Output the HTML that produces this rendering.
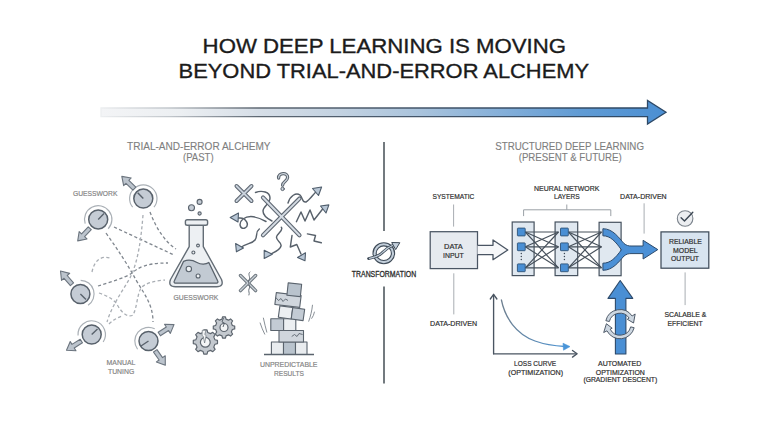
<!DOCTYPE html>
<html><head><meta charset="utf-8">
<style>
html,body{margin:0;padding:0;background:#fff;}
svg{display:block;}
text{font-family:"Liberation Sans",sans-serif;}
</style></head>
<body>
<svg width="768" height="429" viewBox="0 0 768 429">
<defs>
  <linearGradient id="topg" x1="101" y1="0" x2="666" y2="0" gradientUnits="userSpaceOnUse">
    <stop offset="0" stop-color="#f3f4f6"/>
    <stop offset="0.14" stop-color="#eceff2"/>
    <stop offset="0.28" stop-color="#d6dee7"/>
    <stop offset="0.42" stop-color="#c3d2e1"/>
    <stop offset="0.565" stop-color="#a9c3dc"/>
    <stop offset="0.71" stop-color="#84afd9"/>
    <stop offset="0.85" stop-color="#609bd4"/>
    <stop offset="1" stop-color="#4b8fd3"/>
  </linearGradient>
  <linearGradient id="topgs" x1="101" y1="0" x2="666" y2="0" gradientUnits="userSpaceOnUse">
    <stop offset="0" stop-color="#eceef0"/>
    <stop offset="0.12" stop-color="#c2c7cc"/>
    <stop offset="0.28" stop-color="#5d6772"/>
    <stop offset="0.6" stop-color="#3f5268"/>
    <stop offset="1" stop-color="#2c4866"/>
  </linearGradient>
  <linearGradient id="lossg" x1="501" y1="0" x2="570" y2="0" gradientUnits="userSpaceOnUse">
    <stop offset="0" stop-color="#6f8090"/>
    <stop offset="1" stop-color="#4a95d8"/>
  </linearGradient>
  <g id="karrow">
    <!-- arrow pointing right, tip at (0,0) -->
    <path d="M0,0 L-7.8,-5.4 L-7.8,-2.1 L-17.5,-2.1 L-17.5,2.1 L-7.8,2.1 L-7.8,5.4 Z" fill="#bcc4cd" stroke="#6b747e" stroke-width="1.1" stroke-linejoin="round"/>
  </g>
</defs>

<!-- TITLE -->
<g fill="#1b1b1b" stroke="#1b1b1b" stroke-width="0.35" font-size="20.8">
  <text x="202.6" y="52.8" textLength="363.5" lengthAdjust="spacingAndGlyphs">HOW DEEP LEARNING IS MOVING</text>
  <text x="178.6" y="78.2" textLength="410.5" lengthAdjust="spacingAndGlyphs">BEYOND TRIAL-AND-ERROR ALCHEMY</text>
</g>

<!-- TOP ARROW -->
<path d="M101,108 L647.5,108 L647.5,100.5 L666,112.3 L647.5,124 L647.5,116.6 L101,116.6 Z" fill="url(#topg)" stroke="url(#topgs)" stroke-width="1.3" stroke-linejoin="miter"/>

<!-- SECTION HEADERS -->
<g fill="#7e7e7e" stroke="#7e7e7e" stroke-width="0.12" font-size="11">
  <text x="127" y="149.7" textLength="143.5" lengthAdjust="spacingAndGlyphs">TRIAL-AND-ERROR ALCHEMY</text>
  <text x="183" y="161.2" textLength="30.6" lengthAdjust="spacingAndGlyphs">(PAST)</text>
  <text x="495.2" y="149.7" textLength="148.8" lengthAdjust="spacingAndGlyphs">STRUCTURED DEEP LEARNING</text>
  <text x="518.7" y="161.2" textLength="103.1" lengthAdjust="spacingAndGlyphs">(PRESENT &amp; FUTURE)</text>
</g>

<!-- DIVIDER -->
<g stroke="#737a7f" stroke-width="2">
  <line x1="384" y1="142" x2="384" y2="231"/>
  <line x1="384" y1="286.5" x2="384" y2="383.5"/>
</g>

<!-- TRANSFORMATION ICON -->
<g>
  <ellipse cx="383.8" cy="253.2" rx="9.2" ry="8.9" fill="none" stroke="#3f4b58" stroke-width="4.3"/>
  <ellipse cx="383.8" cy="253.2" rx="9.2" ry="8.9" fill="none" stroke="#c3cfdb" stroke-width="2.1"/>
  <path d="M368.5,258.6 C374,257.5 379,256.5 383,252 C387,248 390,246.5 394,244.8" fill="none" stroke="#3f4b58" stroke-width="2.8" stroke-linecap="round"/>
  <path d="M369.5,258.4 C374,257.5 379,256.5 383,252 C387,248 390,246.5 394,244.8" fill="none" stroke="#c3cfdb" stroke-width="1.1" stroke-linecap="round"/>
  <path d="M399.8,242.7 L391.7,242.5 L395.7,249.6 Z" fill="#c3cfdb" stroke="#3f4b58" stroke-width="1" stroke-linejoin="round"/>
</g>
<text x="351.8" y="277.4" font-size="8.3" fill="#2d2d2d" stroke="#2d2d2d" stroke-width="0.3" textLength="64.4" lengthAdjust="spacingAndGlyphs">TRANSFORMATION</text>


<!-- LEFT SIDE -->
<!-- dashed lines -->
<g fill="none" stroke-width="1.3" stroke-dasharray="3.2 2.4">
  <g stroke="#80878f">
  <path d="M114,227 L174,255"/>
  <path d="M106,233 C118,250 128,265 136,280 C145,295 153,305 153,322"/>
  <path d="M150,212 C156,228 165,242 176,249"/>
  <path d="M98,286 C110,282 125,278 132,273 C138,268 145,263 168,263"/>
  </g>
  <g stroke="#a9aeb4">
  <path d="M143,215 C141,240 138,262 130,278 C122,292 112,305 107,322"/>
  <path d="M92,272 C94,262 100,255 110,258"/>
  <path d="M99,293 C108,296 115,300 118,306 C122,313 128,318 133,315 C137,308 137,295 141,288 C145,283 155,281 165,280"/>
  <path d="M109,324 C113,320 117,318 122,316"/>
  </g>
</g>

<!-- knobs -->
<g id="knobs">
  <!-- knob1 -->
  <path d="M132.65,207.22 A13.7,13.7 0 1 1 153.95,207.22" fill="none" stroke="#aab0b6" stroke-width="1.2"/>
  <circle cx="143.3" cy="198.6" r="9.5" fill="#c5ccd5" stroke="#58616b" stroke-width="1.5"/>
  <line x1="143.3" y1="198.6" x2="137.7" y2="192.7" stroke="#58616b" stroke-width="1.4"/>
  <use href="#karrow" transform="translate(121.8,176.4) rotate(-136)"/>
  <!-- knob2 -->
  <path d="M85.17,223.63 A13.7,13.7 0 1 1 108.22,228.74" fill="none" stroke="#aab0b6" stroke-width="1.2"/>
  <circle cx="98.2" cy="219.4" r="9.5" fill="#c5ccd5" stroke="#58616b" stroke-width="1.5"/>
  <line x1="98.2" y1="219.4" x2="104" y2="213.5" stroke="#58616b" stroke-width="1.4"/>
  <use href="#karrow" transform="translate(77.7,240.9) rotate(133.6)"/>
  <!-- knob3 -->
  <path d="M80.64,280.30 A13.7,13.7 0 0 1 88.06,305.36" fill="none" stroke="#aab0b6" stroke-width="1.2"/>
  <circle cx="80.4" cy="294" r="9.5" fill="#c5ccd5" stroke="#58616b" stroke-width="1.5"/>
  <line x1="80.4" y1="294" x2="86" y2="299.5" stroke="#58616b" stroke-width="1.4"/>
  <use href="#karrow" transform="translate(60.5,271) rotate(-131)"/>
  <!-- knob4 -->
  <path d="M78.03,335.46 A13.7,13.7 0 1 1 103.19,341.96" fill="none" stroke="#aab0b6" stroke-width="1.2"/>
  <circle cx="91.7" cy="334.5" r="9.5" fill="#c5ccd5" stroke="#58616b" stroke-width="1.5"/>
  <line x1="91.7" y1="334.5" x2="97.5" y2="329" stroke="#58616b" stroke-width="1.4"/>
  <use href="#karrow" transform="translate(66.5,350.3) rotate(148)"/>
  <!-- knob5 -->
  <path d="M154.72,328.79 A13.7,13.7 0 0 0 137.56,349.24" fill="none" stroke="#aab0b6" stroke-width="1.2"/>
  <circle cx="148.5" cy="341" r="9.5" fill="#c5ccd5" stroke="#58616b" stroke-width="1.5"/>
  <line x1="148.5" y1="341" x2="141" y2="346" stroke="#58616b" stroke-width="1.4"/>
  <use href="#karrow" transform="translate(174,324.6) rotate(-32.7)"/>
  <use href="#karrow" transform="translate(165.3,365.2) rotate(55)"/>
</g>

<!-- flask -->
<g stroke-linejoin="round">
  <path d="M189.2,225.2 L189.2,246.6 L170.5,279.5 Q167.8,286.7 175.5,286.7 L216.5,286.7 Q224.2,286.7 221.5,279.5 L203.3,246.6 L203.3,225.2 Z" fill="#edf0f3" stroke="#646d76" stroke-width="1.4"/>
  <path d="M183.6,261.3 L174.5,280.5 Q173,283.2 176.5,283.2 L215.5,283.2 Q219,283.2 217.5,280.5 L208.8,262.5 C206,264.5 201,264.8 197,262.5 C193,260.2 188,259.5 183.6,261.3 Z" fill="#c2cad3" stroke="#58616b" stroke-width="1.3"/>
  <rect x="185.4" y="219.8" width="22.2" height="5.4" rx="1.8" fill="#edf0f3" stroke="#646d76" stroke-width="1.4"/>
  <g fill="#eef1f4" stroke="#5a636d" stroke-width="1.1">
    <circle cx="188.8" cy="269" r="2.7"/>
    <circle cx="198.1" cy="276" r="2"/>
    <circle cx="193.4" cy="252.5" r="1.5"/>
    <circle cx="198" cy="245.5" r="1.4"/>
    <circle cx="191.5" cy="207.7" r="3" fill="#c5ccd5"/>
    <circle cx="199.6" cy="201.9" r="2.5" fill="#c5ccd5"/>
    <circle cx="199.6" cy="213.5" r="1.6" fill="#c5ccd5"/>
  </g>
</g>

<!-- left labels -->
<g fill="#858585" stroke="#858585" stroke-width="0.2" font-size="7.8">
  <text x="73" y="196.2" textLength="44.4" lengthAdjust="spacingAndGlyphs">GUESSWORK</text>
  <text x="173.5" y="299.8" textLength="44.8" lengthAdjust="spacingAndGlyphs">GUESSWORK</text>
  <text x="106.6" y="364.8" textLength="28.8" lengthAdjust="spacingAndGlyphs">MANUAL</text>
  <text x="108" y="373.6" textLength="26.2" lengthAdjust="spacingAndGlyphs">TUNING</text>
  <text x="259.9" y="367.2" textLength="57.6" lengthAdjust="spacingAndGlyphs">UNPREDICTABLE</text>
  <text x="274" y="375.5" textLength="30" lengthAdjust="spacingAndGlyphs">RESULTS</text>
</g>


<!-- CHAOS -->
<g stroke-linejoin="round" stroke-linecap="round">
  <!-- squiggles -->
  <g fill="none" stroke="#58616b" stroke-width="1.45">
    <path d="M255.5,192.5 C262,190 270,192 270,198 C270,204 263,206 263,211 C263,216 268,219 272,221"/>
    <path d="M266,221.5 C258,217 250,214 243,219 C238,223 240,230 245,228 C250,225 246,218 240,218 L234,218"/>
    <path d="M288,203 C290,196 296,192 300,195 C303,198 302,203 306,202 C310,200 314,193 318,190"/>
    <path d="M296.4,221.7 L301,212 L305,221 L310,210 L314,220 L325,206"/>
    <path d="M259.3,229 C255,232 258,236 255,240 C252,244 246,243 240,248"/>
    <path d="M281.3,227.3 C284,230 277,234 276.5,237 C276,241 282,242 281,246 C280,251 272,253 267,256"/>
    <path d="M292,235.5 L290.3,247 L296.8,244.5 L301,254"/>
    <path d="M307.4,233.9 L315.5,235.5 L314,241 L321.3,242.8"/>
    
  </g>
  <path d="M278.6,178 C278.2,172.5 288,172 287.6,177.5 C287.3,181.5 282.6,181.5 282.6,185.2" fill="none" stroke="#5a636d" stroke-width="3.3" stroke-linecap="round"/>
  <path d="M278.6,178 C278.2,172.5 288,172 287.6,177.5 C287.3,181.5 282.6,181.5 282.6,185.2" fill="none" stroke="#ccd4dc" stroke-width="1.2" stroke-linecap="round"/>
  <circle cx="282.6" cy="188.9" r="1.7" fill="#ccd4dc" stroke="#5a636d" stroke-width="1"/>
  <!-- arrow heads -->
  <g fill="#b9c7d6" stroke="#4f5d6c" stroke-width="1.1">
    <path d="M321.6,187 L312.5,188.5 L318.5,195.5 Z"/>
    <path d="M328.9,204.9 L320.5,206 L326,213 Z"/>
    <path d="M230.2,217.5 L238.5,213 L238,222 Z"/>
    <path d="M236.4,251.8 L235.6,243.5 L243.5,248 Z"/>
    <path d="M264.2,258.4 L264.2,250.3 L272.3,254.3 Z"/>
    <path d="M305,260.8 L297.5,257.5 L305.5,252.8 Z"/>
  </g>
  <!-- small X -->
  <g>
    <path d="M236.5,186 L251.5,201 M251.5,186 L236.5,201" stroke="#5f6873" stroke-width="4" fill="none" stroke-linecap="round"/>
    <path d="M236.5,186 L251.5,201 M251.5,186 L236.5,201" stroke="#c9d2dc" stroke-width="1.8" fill="none" stroke-linecap="round"/>
  </g>
  <!-- big X -->
  <g>
    <path d="M263,197.5 L299.5,235.3 M299.5,198.6 L263,235.3" stroke="#5f6873" stroke-width="4.2" fill="none" stroke-linecap="round"/>
    <path d="M263,197.5 L299.5,235.3 M299.5,198.6 L263,235.3" stroke="#d4dbe3" stroke-width="2" fill="none" stroke-linecap="round"/>
  </g>
  <!-- small X 2 -->
  <g>
    <path d="M240.5,275.5 L255.6,290.6 M255.6,275.5 L240.5,290.6" stroke="#6e777f" stroke-width="3.4" fill="none"/>
    <path d="M240.5,275.5 L255.6,290.6 M255.6,275.5 L240.5,290.6" stroke="#c9d0d7" stroke-width="1.4" fill="none"/>
    <path d="M250,272 C247,274 251,277 249,280 C247,283 251,286 249,289 C248,291 250,293 249,295" stroke="#5a636d" stroke-width="0.9" fill="none"/>
  </g>
</g>

<!-- GEARS -->
<g fill="#c4c9cf" stroke="#5e666f" stroke-width="1.2" stroke-linejoin="round">
  <path id="gear1" d="M214.93,339.71 L217.49,340.38 L217.49,343.62 L214.93,344.29 L213.76,347.12 L215.10,349.40 L212.80,351.70 L210.52,350.36 L207.69,351.53 L207.02,354.09 L203.78,354.09 L203.11,351.53 L200.28,350.36 L198.00,351.70 L195.70,349.40 L197.04,347.12 L195.87,344.29 L193.31,343.62 L193.31,340.38 L195.87,339.71 L197.04,336.88 L195.70,334.60 L198.00,332.30 L200.28,333.64 L203.11,332.47 L203.78,329.91 L207.02,329.91 L207.69,332.47 L210.52,333.64 L212.80,332.30 L215.10,334.60 L213.76,336.88 Z"/>
  <path id="gear2" d="M232.36,325.49 L234.70,326.06 L234.70,328.94 L232.36,329.51 L231.33,331.99 L232.59,334.05 L230.55,336.09 L228.49,334.83 L226.01,335.86 L225.44,338.20 L222.56,338.20 L221.99,335.86 L219.51,334.83 L217.45,336.09 L215.41,334.05 L216.67,331.99 L215.64,329.51 L213.30,328.94 L213.30,326.06 L215.64,325.49 L216.67,323.01 L215.41,320.95 L217.45,318.91 L219.51,320.17 L221.99,319.14 L222.56,316.80 L225.44,316.80 L226.01,319.14 L228.49,320.17 L230.55,318.91 L232.59,320.95 L231.33,323.01 Z"/>
  <circle cx="205.3" cy="342.3" r="4.9" fill="#f4f5f6"/>
  <circle cx="224" cy="327.5" r="4" fill="#f4f5f6"/>
  <path d="M202.3,330.2 L206,330.2 L204.8,334.5 L206.2,335.6 L204.6,343 L203.3,336.6 L202,335.2 Z" fill="#f4f5f6" stroke="#6a727a" stroke-width="0.7"/>
  <path d="M223.5,318 L222,322 L224.5,323 L223,327" fill="none" stroke="#5e666f" stroke-width="1"/>
</g>

<!-- TOWER -->
<g stroke="#5a636d" stroke-width="1.1" stroke-linejoin="round">
  <line x1="264" y1="354.4" x2="314" y2="354.4" stroke-width="1.5"/>
  <rect x="271.4" y="342" width="12.1" height="12.4" fill="#e9ecef"/>
  <rect x="283.5" y="342" width="12" height="12.4" fill="#b9c3cd"/>
  <rect x="295.5" y="342" width="11.5" height="12.4" fill="#e9ecef"/>
  <rect x="279" y="330.5" width="24.5" height="11.5" fill="#d0d6dd"/>
  <rect x="270.8" y="318.8" width="12.8" height="11.7" fill="#c3cbd4"/>
  <rect x="283.6" y="318.8" width="12.2" height="11.7" fill="#eceff2"/>
  <g transform="rotate(8 288 313)">
    <rect x="279" y="307" width="13" height="11.5" fill="#eceff2"/>
    <rect x="292" y="307" width="12" height="11.5" fill="#c3cbd4"/>
  </g>
  <g transform="rotate(7 288 300)">
    <rect x="275.5" y="294" width="25" height="12" fill="#d0d6dd"/>
  </g>
  <g transform="rotate(6 294 290)">
    <rect x="287.5" y="283.5" width="13.5" height="12.5" fill="#b9c3cd"/>
  </g>
  <path d="M275.8,297.5 L278.5,300.5 L281,298.5 L283,301.5 L285.5,299 L288,300.5" fill="none" stroke-width="0.9"/>
  <path d="M291.7,336.5 L294.5,334.5 L297,336.5 L299,333.5 L302.6,334.5" fill="none" stroke-width="0.9"/>
  <path d="M260,322.6 C261.5,327 263,331 264.9,334.5" fill="none" stroke="#7a828a" stroke-width="0.9"/>
  <path d="M263.3,317.7 C264.5,322.5 265.5,328 266.9,332.5" fill="none" stroke="#7a828a" stroke-width="0.9"/>
  <path d="M312.5,304.8 C312,310.5 310.5,316.5 308.6,321.6" fill="none" stroke="#7a828a" stroke-width="0.9"/>
  <path d="M314.5,311.7 C314,314.5 313,316.5 311.5,318.7" fill="none" stroke="#7a828a" stroke-width="0.9"/>
</g>


<!-- RIGHT SIDE -->
<!-- labels -->
<g fill="#2e2e2e" stroke="#2e2e2e" stroke-width="0.2" font-size="7.8">
  <text x="432.5" y="198.6" textLength="41.9" lengthAdjust="spacingAndGlyphs">SYSTEMATIC</text>
  <text x="534.1" y="190.5" textLength="65.3" lengthAdjust="spacingAndGlyphs">NEURAL NETWORK</text>
  <text x="554" y="198.8" textLength="25.6" lengthAdjust="spacingAndGlyphs">LAYERS</text>
  <text x="620.1" y="198.6" textLength="46.6" lengthAdjust="spacingAndGlyphs">DATA-DRIVEN</text>
  <text x="430.1" y="325.8" textLength="47" lengthAdjust="spacingAndGlyphs">DATA-DRIVEN</text>
  <text x="664.4" y="317" textLength="41.9" lengthAdjust="spacingAndGlyphs">SCALABLE &amp;</text>
  <text x="667.6" y="325.5" textLength="35" lengthAdjust="spacingAndGlyphs">EFFICIENT</text>
  <text x="514.1" y="366.1" textLength="42" lengthAdjust="spacingAndGlyphs">LOSS CURVE</text>
  <text x="508.3" y="374.7" textLength="54.8" lengthAdjust="spacingAndGlyphs">(OPTIMIZATION)</text>
  <text x="598" y="366.4" textLength="43.2" lengthAdjust="spacingAndGlyphs">AUTOMATED</text>
  <text x="595.7" y="374.5" textLength="49.2" lengthAdjust="spacingAndGlyphs">OPTIMIZATION</text>
  <text x="583.4" y="382.4" textLength="73.8" lengthAdjust="spacingAndGlyphs">(GRADIENT DESCENT)</text>
</g>
<!-- light connector lines -->
<g stroke="#a8adb2" stroke-width="1">
  <line x1="453.6" y1="204.5" x2="453.6" y2="226.6"/>
  <line x1="453.8" y1="273.3" x2="453.8" y2="314.4"/>
  <line x1="644.1" y1="203.3" x2="644.1" y2="233.6"/>
  <line x1="685.1" y1="272.4" x2="685.1" y2="305.1"/>
</g>
<!-- bracket -->
<path d="M523.6,216.1 L523.6,209.8 L610.8,209.8 L610.8,216.1 M566.8,209.8 L566.8,204.5" fill="none" stroke="#9aa0a6" stroke-width="1"/>

<!-- data input box -->
<rect x="430.2" y="231.7" width="47.3" height="36.9" fill="#e6eaef" stroke="#4a5563" stroke-width="1.25"/>
<g fill="#2e2e2e" stroke="#2e2e2e" stroke-width="0.2" font-size="7.9">
  <text x="444" y="249.2" textLength="18.8" lengthAdjust="spacingAndGlyphs">DATA</text>
  <text x="443" y="257.6" textLength="20.7" lengthAdjust="spacingAndGlyphs">INPUT</text>
</g>
<path d="M477.5,245.3 L493,245.3 L493,240 L507.8,250 L493,259.7 L493,254.6 L477.5,254.6" fill="#f6f7f9" stroke="#4a5563" stroke-width="1.3" stroke-linejoin="round"/>

<!-- NN layers -->
<g fill="#e0e8f0" stroke="#46525f" stroke-width="1.2">
  <rect x="512.2" y="222" width="21.9" height="53.6"/>
  <rect x="555.1" y="222" width="22.6" height="53.6"/>
  <rect x="599.1" y="222.3" width="22" height="53.4"/>
</g>
<g stroke="#46505b" stroke-width="1.15" fill="none">
  <line x1="525.3" y1="232.0" x2="558.5" y2="232.0"/>
  <line x1="525.3" y1="232.0" x2="558.5" y2="246.8"/>
  <line x1="525.3" y1="232.0" x2="558.5" y2="267.8"/>
  <line x1="525.3" y1="246.8" x2="558.5" y2="232.0"/>
  <line x1="525.3" y1="246.8" x2="558.5" y2="246.8"/>
  <line x1="525.3" y1="246.8" x2="558.5" y2="267.8"/>
  <line x1="525.3" y1="267.8" x2="558.5" y2="232.0"/>
  <line x1="525.3" y1="267.8" x2="558.5" y2="246.8"/>
  <line x1="525.3" y1="267.8" x2="558.5" y2="267.8"/>
  <line x1="568.4" y1="232.0" x2="601.5" y2="232.0"/>
  <line x1="568.4" y1="232.0" x2="601.5" y2="246.8"/>
  <line x1="568.4" y1="232.0" x2="601.5" y2="267.8"/>
  <line x1="568.4" y1="246.8" x2="601.5" y2="232.0"/>
  <line x1="568.4" y1="246.8" x2="601.5" y2="246.8"/>
  <line x1="568.4" y1="246.8" x2="601.5" y2="267.8"/>
  <line x1="568.4" y1="267.8" x2="601.5" y2="232.0"/>
  <line x1="568.4" y1="267.8" x2="601.5" y2="246.8"/>
  <line x1="568.4" y1="267.8" x2="601.5" y2="267.8"/>
</g>
<g fill="#4a8fd4" stroke="#2f5277" stroke-width="0.9">
  <rect x="517.4" y="228.1" width="7.8" height="7.8" rx="0.6"/>
  <rect x="517.4" y="242.9" width="7.8" height="7.8" rx="0.6"/>
  <rect x="517.4" y="263.90000000000003" width="7.8" height="7.8" rx="0.6"/>
  <rect x="560.5" y="228.1" width="7.8" height="7.8" rx="0.6"/>
  <rect x="560.5" y="242.9" width="7.8" height="7.8" rx="0.6"/>
  <rect x="560.5" y="263.90000000000003" width="7.8" height="7.8" rx="0.6"/>
</g>
<g fill="#3a4654">
  <circle cx="521.3" cy="253.5" r="0.7"/><circle cx="521.3" cy="256.5" r="0.7"/><circle cx="521.3" cy="259.5" r="0.7"/>
  <circle cx="564.4" cy="253.5" r="0.7"/><circle cx="564.4" cy="256.5" r="0.7"/><circle cx="564.4" cy="259.5" r="0.7"/>
</g>
<!-- merge arrow -->
<path d="M602.9,228.7 C613,228.7 619,238 624,243.5 C626.5,245.5 628.5,246 631,246 L643.1,246 L643.1,240.3 L657.8,249.6 L643.1,259 L643.1,253.6 L631,253.6 C628.5,253.6 626.5,254 624,256 C619,261.5 613,270.3 602.9,270.3 L602.9,263.2 C610.5,263.2 615.5,258 621.4,249.8 C615.5,241.5 610.5,235.8 602.9,235.8 Z" fill="#4b90d6" stroke="#2d4a6b" stroke-width="1" stroke-linejoin="round"/>

<!-- reliable model output -->
<circle cx="685.1" cy="218.5" r="7.8" fill="#eceef1" stroke="#7a828b" stroke-width="1.1"/>
<path d="M681.1,217.8 L684.5,221 L692.8,212.2" fill="none" stroke="#3b4652" stroke-width="1.4" stroke-linecap="round" stroke-linejoin="round"/>
<rect x="661" y="231.9" width="47.8" height="36.3" fill="#d8e4f0" stroke="#3f4c5a" stroke-width="1.25"/>
<g fill="#2e2e2e" stroke="#2e2e2e" stroke-width="0.2" font-size="7.9">
  <text x="669" y="244.4" textLength="32.8" lengthAdjust="spacingAndGlyphs">RELIABLE</text>
  <text x="673" y="252.8" textLength="24.7" lengthAdjust="spacingAndGlyphs">MODEL</text>
  <text x="671" y="260.8" textLength="28" lengthAdjust="spacingAndGlyphs">OUTPUT</text>
</g>

<!-- loss curve -->
<g fill="none" stroke="#4a5562" stroke-width="1.35" stroke-linecap="round" stroke-linejoin="round">
  <path d="M493.6,353.8 L493.6,295"/>
  <path d="M490.3,299 L493.6,294.3 L496.9,299"/>
  <path d="M493.6,353.8 L576.5,353.8"/>
  <path d="M572.5,350.5 L577.1,353.8 L572.5,357.1"/>
</g>
<path d="M501.3,299.5 C505,318 516,334 535,341 C546,345 556,346 565,346.5" fill="none" stroke="url(#lossg)" stroke-width="1.3"/>
<path d="M570,346.6 L563,343.2 L563.5,350.2 Z" fill="#4a95d8" stroke="#4a95d8" stroke-width="0.6" stroke-linejoin="round"/>

<!-- gradient descent arrow -->
<path d="M615.4,354 L615.4,298.4 L608,298.4 L620.2,280.5 L632.8,298.4 L625.9,298.4 L625.9,354 Z" fill="#4a8fd4" stroke="#2d4a6b" stroke-width="1.1" stroke-linejoin="round"/>
<g stroke-linejoin="round">
  <path d="M609.33,321.54 L605.83,320.67 A14.6,14.6 0 0 1 632.10,316.04 L635.17,313.97 L633.55,323.01 L627.30,319.28 L629.12,318.05 A11.0,11.0 0 0 0 609.33,321.54 Z" fill="#cdd7e1" stroke="#3f4c5b" stroke-width="0.9"/>
  <path d="M630.67,326.86 L634.17,327.73 A14.6,14.6 0 0 1 606.99,330.83 L603.69,332.51 L606.41,323.73 L612.16,328.20 L610.20,329.19 A11.0,11.0 0 0 0 630.67,326.86 Z" fill="#cdd7e1" stroke="#3f4c5b" stroke-width="0.9"/>
</g>

</svg>
</body></html>
